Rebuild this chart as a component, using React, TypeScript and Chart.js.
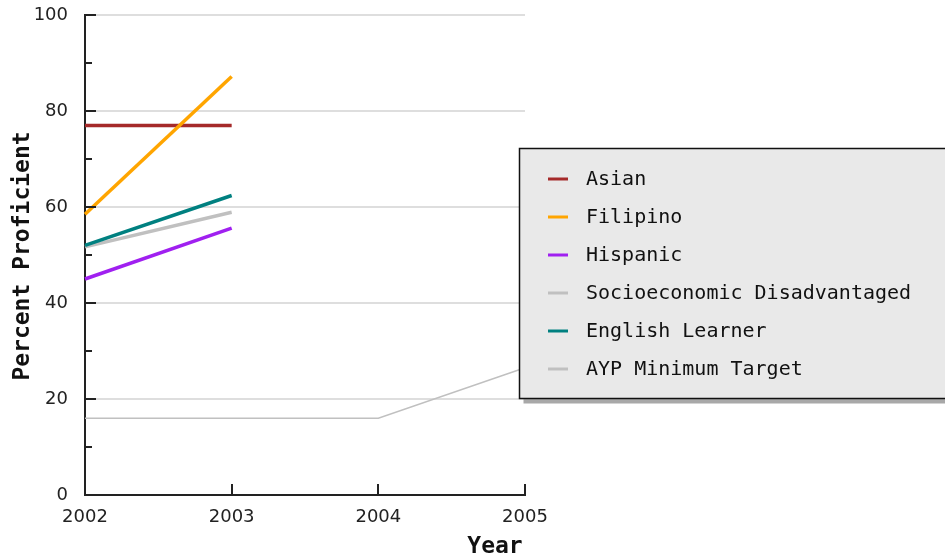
import React, { useEffect, useRef } from "react";
import { Chart, registerables } from "chart.js";

Chart.register(...registerables);

const years = ["2002", "2003", "2004", "2005"];

const seriesNames = [
  "Asian",
  "Filipino",
  "Hispanic",
  "Socioeconomic Disadvantaged",
  "English Learner",
  "AYP Minimum Target",
];

const asian = [77, 77, null, null];
const filipino = [58.5, 87.2, null, null];
const hispanic = [45, 55.6, null, null];
const socioeconomic = [51.7, 58.9, null, null];
const englishLearner = [52, 62.4, null, null];
const aypTarget = [16, 16, 16, 26.5];

const seriesColors = ["#a52a2a", "#ffa500", "#a020f0", "#c0c0c0", "#008080", "#c0c0c0"];
const seriesWidths = [3.5, 3.5, 3.5, 3.5, 3.5, 1.5];

const yMajorTicks = [0, 20, 40, 60, 80, 100];
const yMinorTicks = [10, 30, 50, 70, 90];

const MONO = '"DejaVu Sans Mono", "Liberation Mono", monospace';

// Inward tick marks, axis titles and the boxed legend with its drop shadow.
const decorations = {
  id: "decorations",
  afterDraw(chart: any) {
    const ctx = chart.ctx as CanvasRenderingContext2D;
    const area = chart.chartArea;
    const x = chart.scales.x;
    const y = chart.scales.y;
    ctx.save();

    ctx.strokeStyle = "#222";
    ctx.lineWidth = 2;
    ctx.beginPath();
    yMajorTicks.forEach((v) => {
      const py = Math.round(y.getPixelForValue(v));
      ctx.moveTo(area.left, py);
      ctx.lineTo(area.left + 11, py);
    });
    yMinorTicks.forEach((v) => {
      const py = Math.round(y.getPixelForValue(v));
      ctx.moveTo(area.left, py);
      ctx.lineTo(area.left + 7, py);
    });
    years.forEach((_, i) => {
      if (i === 0) return;
      const px = Math.round(x.getPixelForValue(i));
      ctx.moveTo(px, area.bottom);
      ctx.lineTo(px, area.bottom - 11);
    });
    ctx.stroke();

    // axis titles
    ctx.fillStyle = "#111";
    ctx.font = `bold 23px ${MONO}`;
    ctx.textAlign = "center";
    ctx.textBaseline = "middle";
    ctx.fillText("Year", 495, 547);
    ctx.save();
    ctx.translate(23, 256);
    ctx.rotate(-Math.PI / 2);
    ctx.fillText("Percent Proficient", 0, 0);
    ctx.restore();

    // legend
    const bx = 519.5;
    const by = 148.5;
    const bw = 440;
    const bh = 250;
    ctx.fillStyle = "#a8a8a8";
    ctx.fillRect(bx + 4, by + 5, bw, bh);
    ctx.fillStyle = "#e9e9e9";
    ctx.fillRect(bx, by, bw, bh);
    ctx.strokeStyle = "#111";
    ctx.lineWidth = 1.5;
    ctx.strokeRect(bx, by, bw, bh);

    ctx.font = `20px ${MONO}`;
    ctx.textAlign = "left";
    ctx.textBaseline = "middle";
    chart.data.datasets.forEach((ds: any, i: number) => {
      const ry = 179 + i * 38;
      ctx.strokeStyle = ds.borderColor;
      ctx.lineWidth = 3;
      ctx.beginPath();
      ctx.moveTo(548, ry);
      ctx.lineTo(568, ry);
      ctx.stroke();
      ctx.fillStyle = "#111";
      ctx.fillText(ds.label, 586, ry + 1);
    });
    ctx.restore();
  },
};

export default function App() {
  const canvasRef = useRef<HTMLCanvasElement | null>(null);

  useEffect(() => {
    const canvas = canvasRef.current;
    if (!canvas) return;
    const values = [asian, filipino, hispanic, socioeconomic, englishLearner, aypTarget];
    const drawOrder = [2, 0, 3, 4, 1, 5];
    const chart = new Chart(canvas, {
      type: "line",
      data: {
        labels: years,
        datasets: seriesNames.map((name, i) => ({
          label: name,
          data: values[i],
          borderColor: seriesColors[i],
          backgroundColor: seriesColors[i],
          borderWidth: seriesWidths[i],
          pointRadius: 0,
          tension: 0,
          fill: false,
          order: drawOrder[i],
        })),
      },
      options: {
        responsive: false,
        animation: false,
        layout: { padding: { top: 15, right: 420, bottom: 0, left: 0 } },
        plugins: {
          legend: { display: false },
          tooltip: { enabled: false },
          title: { display: false },
        },
        scales: {
          x: {
            type: "category",
            offset: false,
            grid: { display: false, drawTicks: false },
            border: { display: true, color: "#222", width: 2 },
            ticks: {
              padding: 12,
              color: "#222",
              maxRotation: 0,
              font: { family: '"DejaVu Sans", sans-serif', size: 18 },
            },
            afterFit: (s: any) => {
              s.height = 65;
            },
          },
          y: {
            min: 0,
            max: 100,
            ticks: {
              stepSize: 20,
              padding: 17,
              color: "#222",
              font: { family: '"DejaVu Sans", sans-serif', size: 18 },
            },
            grid: { color: "#dedede", lineWidth: 2, drawTicks: false },
            border: { display: true, color: "#222", width: 2 },
            afterFit: (s: any) => {
              s.width = 85;
              s.paddingTop = 0;
              s.paddingBottom = 0;
            },
          },
        },
      },
      plugins: [decorations],
    });
    return () => chart.destroy();
  }, []);

  return (
    <div style={{ position: "absolute", left: 0, top: 0, width: 945, height: 560, background: "#fff" }}>
      <canvas ref={canvasRef} width={945} height={560} />
    </div>
  );
}
